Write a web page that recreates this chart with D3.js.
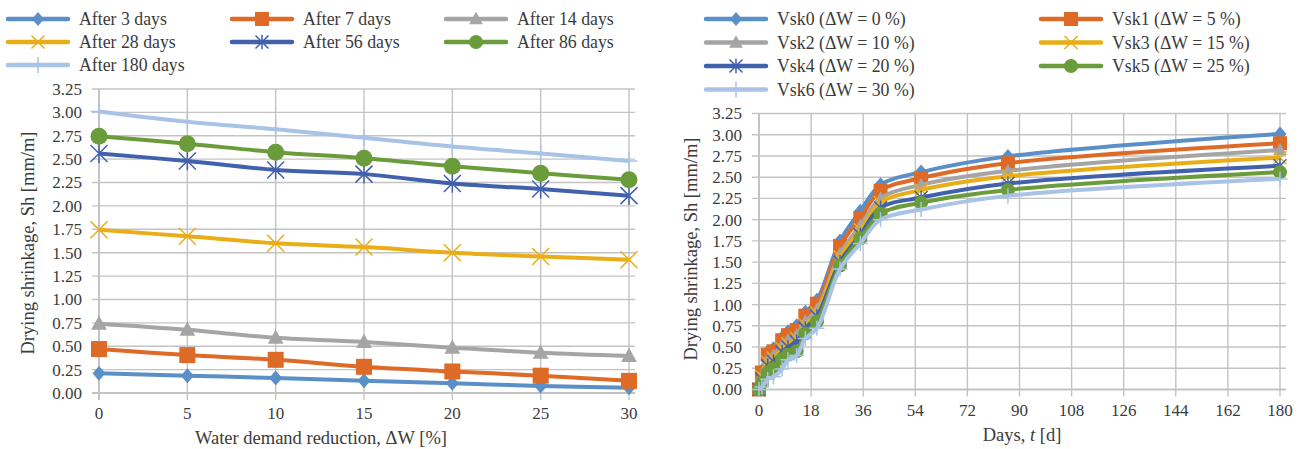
<!DOCTYPE html>
<html><head><meta charset="utf-8">
<script src="https://cdn.jsdelivr.net/npm/d3@7"></script>
<style>
html,body{margin:0;padding:0;background:#fff;}
svg{display:block;font-family:"Liberation Serif","DejaVu Serif",serif;}
</style></head>
<body><svg id="c" width="1305" height="449"></svg>
<script>
// ---------- data ----------
const reductionPct = [0, 5, 10, 15, 20, 25, 30];
const leftSeriesNames = ["After 3 days","After 7 days","After 14 days","After 28 days","After 56 days","After 86 days","After 180 days"];
const after3   = [0.21, 0.185, 0.16, 0.13, 0.105, 0.075, 0.055];
const after7   = [0.47, 0.405, 0.355, 0.28, 0.23, 0.185, 0.13];
const after14  = [0.74, 0.675, 0.59, 0.545, 0.485, 0.43, 0.395];
const after28  = [1.745, 1.675, 1.60, 1.56, 1.50, 1.46, 1.425];
const after56  = [2.56, 2.48, 2.385, 2.34, 2.24, 2.18, 2.11];
const after86  = [2.745, 2.665, 2.575, 2.51, 2.425, 2.35, 2.28];
const after180 = [3.01, 2.90, 2.82, 2.73, 2.635, 2.56, 2.48];

const days = [0, 1, 3, 5, 8, 10, 13, 16, 20, 28, 35, 42, 56, 86, 180];
const rightSeriesNames = ["Vsk0 (\u0394W = 0 %)","Vsk1 (\u0394W = 5 %)","Vsk2 (\u0394W = 10 %)","Vsk3 (\u0394W = 15 %)","Vsk4 (\u0394W = 20 %)","Vsk5 (\u0394W = 25 %)","Vsk6 (\u0394W = 30 %)"];
const vsk0 = [0, 0.22, 0.44, 0.48, 0.61, 0.68, 0.75, 0.91, 1.05, 1.75, 2.10, 2.41, 2.56, 2.745, 3.01];
const vsk1 = [0, 0.20, 0.41, 0.45, 0.58, 0.64, 0.70, 0.87, 1.01, 1.69, 2.02, 2.34, 2.49, 2.665, 2.90];
const vsk2 = [0, 0.17, 0.35, 0.40, 0.52, 0.58, 0.64, 0.80, 0.94, 1.60, 1.93, 2.25, 2.41, 2.575, 2.82];
const vsk3 = [0, 0.15, 0.32, 0.37, 0.48, 0.54, 0.60, 0.76, 0.90, 1.56, 1.88, 2.20, 2.35, 2.51, 2.73];
const vsk4 = [0, 0.12, 0.28, 0.33, 0.44, 0.50, 0.56, 0.72, 0.86, 1.50, 1.82, 2.14, 2.26, 2.425, 2.635];
const vsk5 = [0, 0.08, 0.20, 0.25, 0.36, 0.41, 0.45, 0.66, 0.80, 1.46, 1.78, 2.07, 2.20, 2.35, 2.56];
const vsk6 = [0, 0.03, 0.12, 0.15, 0.24, 0.35, 0.40, 0.60, 0.72, 1.42, 1.72, 2.00, 2.12, 2.28, 2.48];

const yTicks = d3.range(0, 3.2501, 0.25);
const leftXTicks = [0, 5, 10, 15, 20, 25, 30];
const rightXTicks = [0, 18, 36, 54, 72, 90, 108, 126, 144, 162, 180];

const colors = ["#5a8fc8","#dd6a26","#a5a5a5","#e9ae17","#4261ad","#6a9c3b","#a8c3e6"];
const markers = ["diamond","square","triangle","x","asterisk","circle","plus"];

// ---------- helpers ----------
const svg = d3.select("#c");
const textColor = "#3b3b3b";
const gridColor = "#c3c3c3";

function drawMarker(g, type, x, y, color, s) {
  const h = s / 2;
  if (type === "diamond") {
    g.append("path").attr("d", `M${x},${y-h*1.15}L${x+h},${y}L${x},${y+h*1.15}L${x-h},${y}Z`).attr("fill", color);
  } else if (type === "square") {
    g.append("rect").attr("x", x-h).attr("y", y-h).attr("width", s).attr("height", s).attr("fill", color);
  } else if (type === "triangle") {
    g.append("path").attr("d", `M${x},${y-h*1.1}L${x+h*1.05},${y+h*0.8}L${x-h*1.05},${y+h*0.8}Z`).attr("fill", color);
  } else if (type === "circle") {
    g.append("circle").attr("cx", x).attr("cy", y).attr("r", h).attr("fill", color);
  } else if (type === "x") {
    g.append("path").attr("d", `M${x-h},${y-h}L${x+h},${y+h}M${x-h},${y+h}L${x+h},${y-h}`).attr("stroke", color).attr("stroke-width", 1.5);
  } else if (type === "asterisk") {
    g.append("path").attr("d", `M${x-h},${y-h}L${x+h},${y+h}M${x-h},${y+h}L${x+h},${y-h}M${x},${y-h*1.1}L${x},${y+h*1.1}`).attr("stroke", color).attr("stroke-width", 1.5);
  } else if (type === "plus") {
    g.append("path").attr("d", `M${x-h},${y}L${x+h},${y}M${x},${y-h}L${x},${y+h}`).attr("stroke", color).attr("stroke-width", 1.5);
  }
}

function drawChart(cfg) {
  const x = d3.scaleLinear().domain(cfg.xDomain).range(cfg.xRange);
  const y = d3.scaleLinear().domain([0, 3.25]).range(cfg.yRange);
  const g = svg.append("g");
  const x0 = cfg.xRange[0], x1 = cfg.xRange[1], yb = cfg.yRange[0], yt = cfg.yRange[1];
  g.selectAll(".hg").data(yTicks).join("line")
    .attr("x1", x0 - 7).attr("x2", x1 + 6)
    .attr("y1", d => y(d)).attr("y2", d => y(d))
    .attr("stroke", gridColor).attr("stroke-width", d => d === 0 ? 2 : 1.4);
  g.selectAll(".vg").data(cfg.xTicks).join("line")
    .attr("x1", d => x(d)).attr("x2", d => x(d))
    .attr("y1", yt).attr("y2", yb + 7)
    .attr("stroke", gridColor).attr("stroke-width", d => d === 0 ? 2 : 1.4);
  g.selectAll(".yl").data(yTicks).join("text")
    .attr("x", x0 - 17).attr("y", d => y(d)).attr("dy", "0.35em")
    .attr("text-anchor", "end").attr("font-size", 17).attr("fill", textColor)
    .text(d => d.toFixed(2));
  g.selectAll(".xl").data(cfg.xTicks).join("text")
    .attr("x", d => x(d)).attr("y", yb + 26)
    .attr("text-anchor", "middle").attr("font-size", 17).attr("fill", textColor)
    .text(d => d);
  g.append("text").attr("transform", `translate(${cfg.yTitleX},${cfg.yTitleY}) rotate(-90)`)
    .attr("text-anchor", "middle").attr("dy", "0.35em").attr("font-size", 18.5).attr("fill", textColor)
    .text("Drying shrinkage, Sh [mm/m]");
  const xt = g.append("text").attr("x", cfg.xTitleX).attr("y", yb + 51)
    .attr("text-anchor", "middle").attr("font-size", 18.5).attr("fill", textColor);
  cfg.xTitle.forEach(p => xt.append("tspan").attr("font-style", p.italic ? "italic" : null).text(p.t));
  const line = d3.line().x(d => x(d[0])).y(d => y(d[1])).curve(d3.curveCatmullRom.alpha(0.5));
  cfg.series.forEach((vals, i) => {
    const pts = cfg.xs.map((xv, j) => [xv, vals[j]]);
    g.append("path").attr("d", line(pts)).attr("fill", "none")
      .attr("stroke", colors[i]).attr("stroke-width", cfg.lw).attr("stroke-linejoin", "round");
    const mg = g.append("g");
    pts.forEach(p => drawMarker(mg, markers[i], x(p[0]), y(p[1]), colors[i], cfg.ms[i]));
  });
  cfg.names.forEach((name, i) => {
    const col = i % cfg.legendCols.length, row = Math.floor(i / cfg.legendCols.length);
    const lx = cfg.legendCols[col], ly = cfg.legendY0 + row * cfg.legendDy;
    g.append("line").attr("x1", lx).attr("x2", lx + 60).attr("y1", ly).attr("y2", ly)
      .attr("stroke", colors[i]).attr("stroke-width", 4.5).attr("stroke-linecap", "round");
    drawMarker(g, markers[i], lx + 30, ly, colors[i], cfg.legendMs[i]);
    g.append("text").attr("x", lx + 71).attr("y", ly).attr("dy", "0.35em")
      .attr("font-size", 17.8).attr("fill", textColor).text(name);
  });
}

drawChart({
  xDomain: [0, 30], xRange: [99, 629], yRange: [393, 89], xTicks: leftXTicks,
  xs: reductionPct, series: [after3, after7, after14, after28, after56, after86, after180],
  names: leftSeriesNames, lw: 4, ms: [13, 16, 15, 17, 17, 17, 17], legendMs: [12, 14, 13, 13, 13, 14, 16],
  yTitleX: 28, yTitleY: 243, xTitleX: 321, xTitle: [{t: "Water demand reduction, \u0394W [%]"}],
  legendCols: [8, 232, 446], legendY0: 19, legendDy: 23
});
drawChart({
  xDomain: [0, 180], xRange: [759, 1280], yRange: [389.5, 113.5], xTicks: rightXTicks,
  xs: days, series: [vsk0, vsk1, vsk2, vsk3, vsk4, vsk5, vsk6],
  names: rightSeriesNames, lw: 4, ms: [13, 14, 13, 13, 13, 14, 15], legendMs: [12, 14, 13, 13, 13, 14, 16],
  yTitleX: 691, yTitleY: 249, xTitleX: 1022, xTitle: [{t: "Days, "}, {t: "t", italic: true}, {t: " [d]"}],
  legendCols: [706, 1041], legendY0: 19, legendDy: 23.5
});
</script></body></html>
